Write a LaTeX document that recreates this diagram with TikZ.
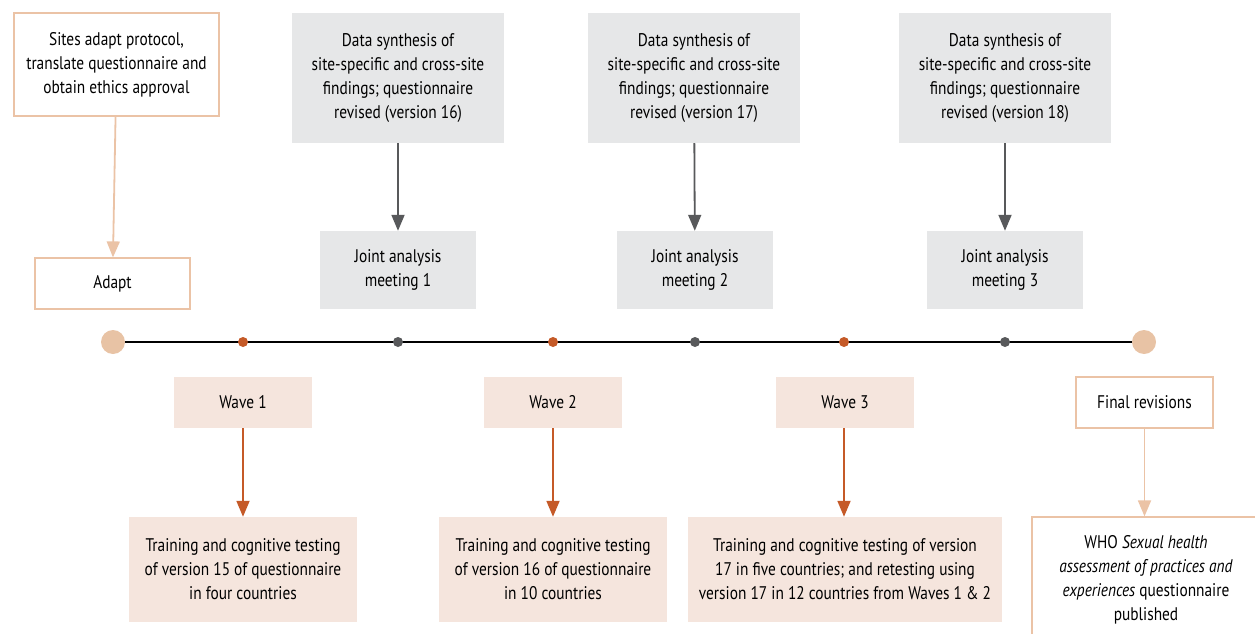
\documentclass[tikz,border=0pt]{standalone}
\usepackage{fontspec}
\setmainfont{PT Sans}[FakeStretch=0.84]
\usetikzlibrary{arrows.meta}
\definecolor{peachline}{HTML}{EBC3A6}
\definecolor{peachdot}{HTML}{E8C3A5}
\definecolor{rust}{HTML}{C55A28}
\definecolor{slate}{HTML}{58595B}
\definecolor{greyfill}{HTML}{E6E7E8}
\definecolor{peachfill}{HTML}{F5E5DD}
\tikzset{
  txt/.style={align=center, inner sep=0pt, font=\fontsize{18.3}{24}\selectfont, text=black},
  outlinebox/.style={txt, draw=peachline, line width=1.2pt, fill=white},
  greybox/.style={txt, fill=greyfill},
  peachbox/.style={txt, fill=peachfill},
  tipstyle/.style={line width=1.8pt, -{Triangle[width=13pt,length=16pt]}},
  peacharrow/.style={tipstyle, draw=peachline},
  rustarrow/.style={tipstyle, draw=rust},
  slatearrow/.style={tipstyle, draw=slate},
  bigdot/.style={circle, fill=peachdot, minimum size=24pt, inner sep=0pt},
  rustdot/.style={circle, fill=rust, minimum size=10pt, inner sep=0pt},
  slatedot/.style={circle, fill=slate, minimum size=10pt, inner sep=0pt},
}
\begin{document}
\begin{tikzpicture}[x=1pt,y=-1pt]
\clip (0,0) rectangle (1255,634);
% top-left
\node[outlinebox, minimum width=205pt, minimum height=103pt] (sites) at (116.5,64.5)
  {Sites adapt protocol,\\translate questionnaire and\\obtain ethics approval};
\node[outlinebox, minimum width=155pt, minimum height=51pt] (adapt) at (112.5,283.5) {Adapt};
% data synthesis
\node[greybox, minimum width=212pt, minimum height=130pt] (ds1) at (398,78)
  {Data synthesis of\\site-specific and cross-site\\findings; questionnaire\\revised (version 16)};
\node[greybox, minimum width=212pt, minimum height=130pt] (ds2) at (694,78)
  {Data synthesis of\\site-specific and cross-site\\findings; questionnaire\\revised (version 17)};
\node[greybox, minimum width=212pt, minimum height=130pt] (ds3) at (1005,78)
  {Data synthesis of\\site-specific and cross-site\\findings; questionnaire\\revised (version 18)};
% joint analysis
\node[greybox, minimum width=156pt, minimum height=78pt] (ja1) at (398,270) {Joint analysis\\meeting 1};
\node[greybox, minimum width=156pt, minimum height=78pt] (ja2) at (695,270) {Joint analysis\\meeting 2};
\node[greybox, minimum width=156pt, minimum height=78pt] (ja3) at (1005,270) {Joint analysis\\meeting 3};
% timeline
\node[bigdot] (start) at (113,342) {};
\node[bigdot] (end) at (1144,342) {};
\draw[black, line width=1.3pt] (start) -- (end);
\node[rustdot] (r1) at (243,342) {};
\node[rustdot] (r2) at (553,342) {};
\node[rustdot] (r3) at (844,342) {};
\node[slatedot] (g1) at (398,342) {};
\node[slatedot] (g2) at (695,342) {};
\node[slatedot] (g3) at (1005,342) {};
% waves
\node[peachbox, minimum width=138pt, minimum height=51pt] (w1) at (243,402.5) {Wave 1};
\node[peachbox, minimum width=138pt, minimum height=51pt] (w2) at (553,402.5) {Wave 2};
\node[peachbox, minimum width=138pt, minimum height=51pt] (w3) at (845,402.5) {Wave 3};
\node[outlinebox, minimum width=137pt, minimum height=51pt] (final) at (1144.5,402.5) {Final revisions};
% bottom boxes
\node[peachbox, minimum width=228pt, minimum height=105pt] (t1) at (243,569.5)
  {Training and cognitive testing\\of version 15 of questionnaire\\in four countries};
\node[peachbox, minimum width=228pt, minimum height=105pt] (t2) at (553,569.5)
  {Training and cognitive testing\\of version 16 of questionnaire\\in 10 countries};
\node[peachbox, minimum width=314pt, minimum height=105pt] (t3) at (845,569.5)
  {Training and cognitive testing of version\\17 in five countries; and retesting using\\version 17 in 12 countries from Waves 1 \& 2};
\node[outlinebox, minimum width=228pt, minimum height=125pt] (who) at (1146,579.5)
  {WHO \textit{Sexual health}\\\textit{assessment of practices and}\\\textit{experiences} questionnaire\\published};
% arrows
\draw[peacharrow] (sites) -- (adapt);
\draw[slatearrow] (ds1) -- (ja1);
\draw[slatearrow] (ds2) -- (ja2);
\draw[slatearrow] (ds3) -- (ja3);
\draw[rustarrow] (w1) -- (t1);
\draw[rustarrow] (w2) -- (t2);
\draw[rustarrow] (w3.south -| r3) -- (t3.north -| r3);
\draw[peacharrow] (final) -- (who.north -| final);
\end{tikzpicture}
\end{document}
